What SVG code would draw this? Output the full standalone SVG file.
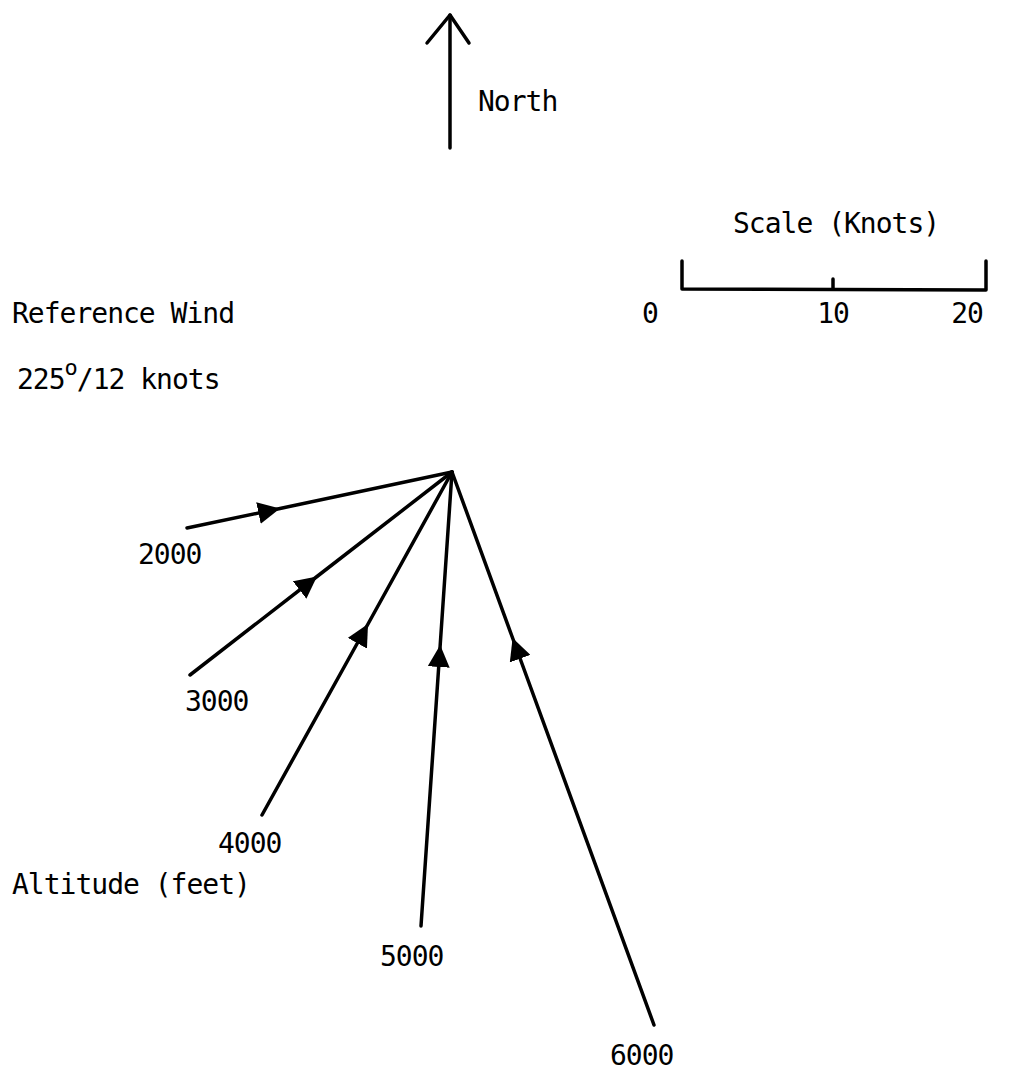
<svg xmlns="http://www.w3.org/2000/svg" width="1011" height="1070" viewBox="0 0 1011 1070">
<style>
text{font-family:"DejaVu Sans Mono","Liberation Mono",monospace;font-size:28px;letter-spacing:-1px;fill:#000}
.ln{stroke:#000;stroke-width:3.5;fill:none;stroke-linecap:round;stroke-linejoin:round}
</style>
<defs>
<marker id="ah" viewBox="0 0 24 22" refX="22" refY="11" markerWidth="24" markerHeight="22" markerUnits="userSpaceOnUse" orient="auto">
<path d="M0,0 L22,11 L0,22 Z" fill="#000"/>
</marker>
</defs>
<rect width="1011" height="1070" fill="#fff"/>
<g id="north">
<path class="ln" d="M450,148 L450,15"/>
<path class="ln" d="M427,43 L450,15 L469,43"/>
<text x="478" y="111">North</text>
</g>
<g id="scale">
<text x="733" y="233">Scale (Knots)</text>
<path class="ln" d="M682,261 L682,289 L986,290 L986,261"/>
<path class="ln" d="M833,279 L833,289"/>
<text x="650" y="323" text-anchor="middle">0</text>
<text x="833" y="323" text-anchor="middle">10</text>
<text x="967" y="323" text-anchor="middle">20</text>
</g>
<g id="reference">
<text x="12" y="323">Reference Wind</text>
<text x="17" y="389">225<tspan dy="-14" font-size="22">o</tspan><tspan dy="14">/12 knots</tspan></text>
</g>
<g id="altitude-label">
<text x="12" y="894">Altitude (feet)</text>
</g>
<g id="connectors">
<path class="ln" d="M187,528 L280,508.5 L452,472" marker-mid="url(#ah)"/>
<path class="ln" d="M190,675 L317,576.5 L452,472" marker-mid="url(#ah)"/>
<path class="ln" d="M262,815 L368,624 L452,472" marker-mid="url(#ah)"/>
<path class="ln" d="M421,926 L440.2,645 L452,472" marker-mid="url(#ah)"/>
<path class="ln" d="M654,1025 L512.6,638 L452,472" marker-mid="url(#ah)"/>
</g>
<g id="n2000"><text x="138" y="564">2000</text></g>
<g id="n3000"><text x="185" y="711">3000</text></g>
<g id="n4000"><text x="218" y="853">4000</text></g>
<g id="n5000"><text x="380" y="966">5000</text></g>
<g id="n6000"><text x="610" y="1065">6000</text></g>
</svg>
